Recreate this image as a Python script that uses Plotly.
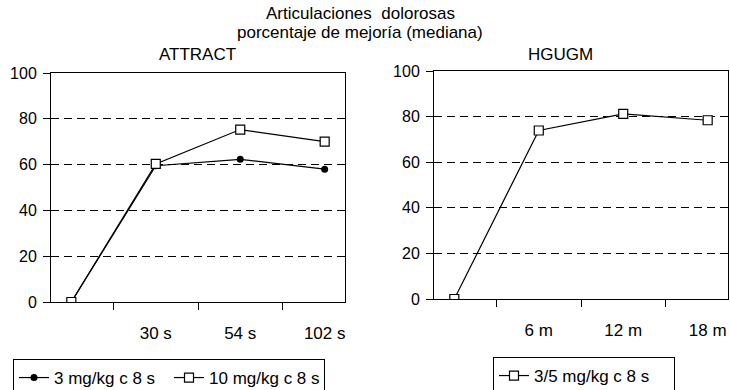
import plotly.graph_objects as go

# Data
cats_left = [" ", "30 s", "54 s", "102 s"]
cats_right = [" ", "6 m", "12 m", "18 m"]
mg3 = [0, 59.5, 62.3, 58]
mg10 = [0, 60.3, 75.3, 70]
hgugm = [0, 73.9, 81.2, 78.4]

FONT = "Liberation Sans, Arial, sans-serif"
FS = 17
L, R, T, B = 51, 2, 71, 88
W, H = 730, 390
pw = W - L - R
ph = H - T - B

def px_x(p):
    return (p - L) / pw

def px_y(p):
    return (H - B - p) / ph

def cx(p):
    return p / W

def cy(p):
    return 1 - p / H

fig = go.Figure()
fig.add_trace(go.Scatter(
    x=cats_left, y=mg3, mode="lines+markers", name="3 mg/kg c 8 s",
    line=dict(color="black", width=1.2),
    marker=dict(symbol="circle", size=7, color="black"),
    xaxis="x", yaxis="y", legend="legend"))
fig.add_trace(go.Scatter(
    x=cats_left, y=mg10, mode="lines+markers", name="10 mg/kg c 8 s",
    line=dict(color="black", width=1.2),
    marker=dict(symbol="square", size=9, color="white", line=dict(color="black", width=1.2)),
    xaxis="x", yaxis="y", legend="legend"))
fig.add_trace(go.Scatter(
    x=cats_right, y=hgugm, mode="lines+markers", name="3/5 mg/kg c 8 s",
    line=dict(color="black", width=1.2),
    marker=dict(symbol="square", size=9, color="white", line=dict(color="black", width=1.2)),
    xaxis="x2", yaxis="y2", legend="legend2"))

xcommon = dict(type="category", showline=True, mirror=True, linecolor="black", linewidth=1,
               ticks="outside", tickson="boundaries", ticklen=7, tickcolor="black",
               showgrid=False, zeroline=False, ticklabelstandoff=16, automargin=False,
               tickfont=dict(size=FS, color="black", family=FONT), fixedrange=True)
ycommon = dict(range=[0, 100], dtick=20, showline=True, mirror=True, linecolor="black", linewidth=1,
               ticks="outside", ticklen=7, tickcolor="black", showgrid=True, gridcolor="black",
               gridwidth=1, griddash="8px,5px", zeroline=False, automargin=False,
               ticklabelstandoff=3,
               tickfont=dict(size=16, color="black", family=FONT), fixedrange=True)

fig.update_layout(
    width=W, height=H,
    margin=dict(l=L, r=R, t=T, b=B),
    paper_bgcolor="white", plot_bgcolor="white",
    font=dict(family=FONT, size=FS, color="black"),
    xaxis=dict(domain=[0, px_x(345)], categoryorder="array", categoryarray=cats_left, **xcommon),
    yaxis=dict(domain=[0, px_y(73)], anchor="x", **ycommon),
    xaxis2=dict(domain=[px_x(434), 1], anchor="y2", categoryorder="array", categoryarray=cats_right, **xcommon),
    yaxis2=dict(domain=[px_y(299), 1], anchor="x2", **ycommon),
    legend=dict(xref="container", yref="container", x=cx(13), y=cy(359),
                xanchor="left", yanchor="top", orientation="h", entrywidth=110,
                bordercolor="black", borderwidth=1, bgcolor="white",
                font=dict(size=FS, family=FONT, color="black")),
    legend2=dict(xref="container", yref="container", x=cx(493), y=cy(357),
                 xanchor="left", yanchor="top", orientation="h", entrywidth=135,
                 bordercolor="black", borderwidth=1, bgcolor="white",
                 font=dict(size=FS, family=FONT, color="black")),
    showlegend=True,
    annotations=[
        dict(text="Articulaciones  dolorosas", x=px_x(360), y=px_y(13), xref="paper", yref="paper",
             showarrow=False, xanchor="center", yanchor="middle", font=dict(size=FS)),
        dict(text="porcentaje de mejoría (mediana)", x=px_x(360), y=px_y(32), xref="paper", yref="paper",
             showarrow=False, xanchor="center", yanchor="middle", font=dict(size=FS)),
        dict(text="ATTRACT", x=px_x(197), y=px_y(55), xref="paper", yref="paper",
             showarrow=False, xanchor="center", yanchor="middle", font=dict(size=FS)),
        dict(text="HGUGM", x=px_x(560), y=px_y(55), xref="paper", yref="paper",
             showarrow=False, xanchor="center", yanchor="middle", font=dict(size=FS)),
    ],
)

fig.write_html("out.html", config={"displayModeBar": False},
               post_script="document.body.style.margin='0';document.body.style.padding='0';document.body.style.overflow='hidden';")
